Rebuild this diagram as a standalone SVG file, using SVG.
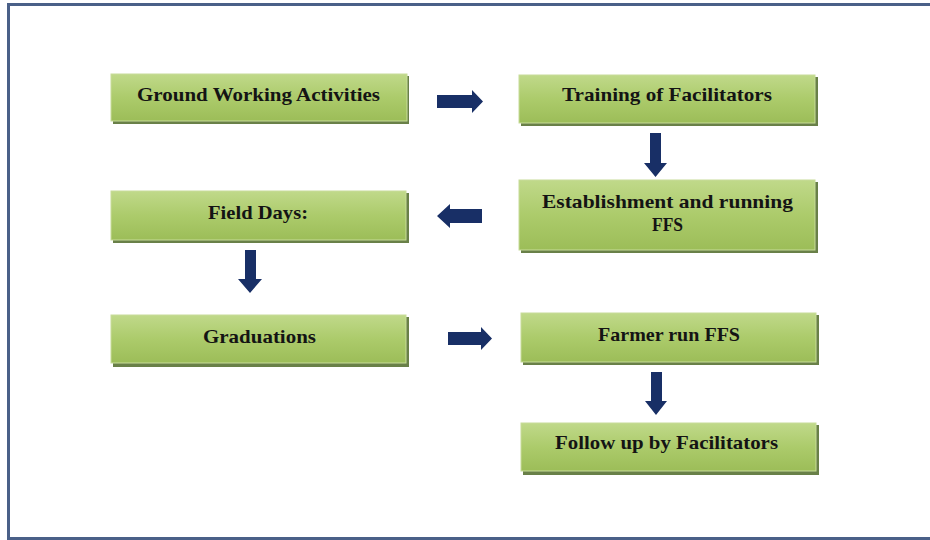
<svg xmlns="http://www.w3.org/2000/svg" width="930" height="540" viewBox="0 0 930 540">
<defs>
<linearGradient id="g" x1="0" y1="0" x2="0" y2="1">
<stop offset="0" stop-color="#c0d98a"/>
<stop offset="0.5" stop-color="#accb6b"/>
<stop offset="1" stop-color="#9cbd58"/>
</linearGradient>
</defs>
<style>
.sh{fill:#4f6a28;opacity:0.85}
.bx{fill:url(#g);stroke:#c8dc9a;stroke-width:1}
.t{font-family:"Liberation Serif",serif;font-weight:bold;font-size:19.5px;fill:#141414;text-anchor:middle}
.ar{fill:#182f66}
</style>
<rect x="0" y="0" width="930" height="540" fill="#ffffff"/>
<rect x="8.5" y="4.5" width="930" height="534" fill="none" stroke="#4a6088" stroke-width="3"/>
<g id="n1">
<rect class="sh" x="113" y="76" width="296" height="48"/>
<rect class="bx" x="111" y="74" width="296" height="47"/>
<text class="t" x="258.5" y="100.5" textLength="243" lengthAdjust="spacingAndGlyphs">Ground Working Activities</text>
</g>
<g id="n2">
<rect class="sh" x="521" y="77" width="297" height="49"/>
<rect class="bx" x="519" y="75" width="296" height="48"/>
<text class="t" x="667" y="100.5" textLength="210" lengthAdjust="spacingAndGlyphs">Training of Facilitators</text>
</g>
<g id="n3">
<rect class="sh" x="521" y="182" width="297" height="71"/>
<rect class="bx" x="519" y="180" width="296" height="70"/>
<text class="t" x="667.5" y="207.5" textLength="251" lengthAdjust="spacingAndGlyphs">Establishment and running</text>
<text class="t" x="667.5" y="230.5" textLength="31" lengthAdjust="spacingAndGlyphs">FFS</text>
</g>
<g id="n4">
<rect class="sh" x="113" y="193" width="296" height="50"/>
<rect class="bx" x="111" y="191" width="295" height="49"/>
<text class="t" x="258" y="218.5" textLength="100" lengthAdjust="spacingAndGlyphs">Field Days:</text>
</g>
<g id="n5">
<rect class="sh" x="113" y="317" width="296" height="50"/>
<rect class="bx" x="111" y="315" width="295" height="48"/>
<text class="t" x="259.5" y="342.5" textLength="113" lengthAdjust="spacingAndGlyphs">Graduations</text>
</g>
<g id="n6">
<rect class="sh" x="523" y="315" width="296" height="50"/>
<rect class="bx" x="521" y="313" width="295" height="49"/>
<text class="t" x="669" y="340.5" textLength="142" lengthAdjust="spacingAndGlyphs">Farmer run FFS</text>
</g>
<g id="n7">
<rect class="sh" x="523" y="425" width="296" height="50"/>
<rect class="bx" x="521" y="423" width="295" height="48"/>
<text class="t" x="666.5" y="448.5" textLength="223" lengthAdjust="spacingAndGlyphs">Follow up by Facilitators</text>
</g>
<g id="connectors">
<polygon class="ar" points="437,95 472,95 472,90 483,101.5 472,113 472,108 437,108"/>
<polygon class="ar" points="650,133 661,133 661,163 667,163 655.5,177 644,163 650,163"/>
<polygon class="ar" points="482,209 450,209 450,204 437,216 450,228 450,223 482,223"/>
<polygon class="ar" points="245,250 256,250 256,279 262,279 250,293 238,279 245,279"/>
<polygon class="ar" points="448,332 481,332 481,327 492,338.5 481,350 481,345 448,345"/>
<polygon class="ar" points="651,372 662,372 662,401 667,401 656,415 645,401 651,401"/>
</g>
</svg>
